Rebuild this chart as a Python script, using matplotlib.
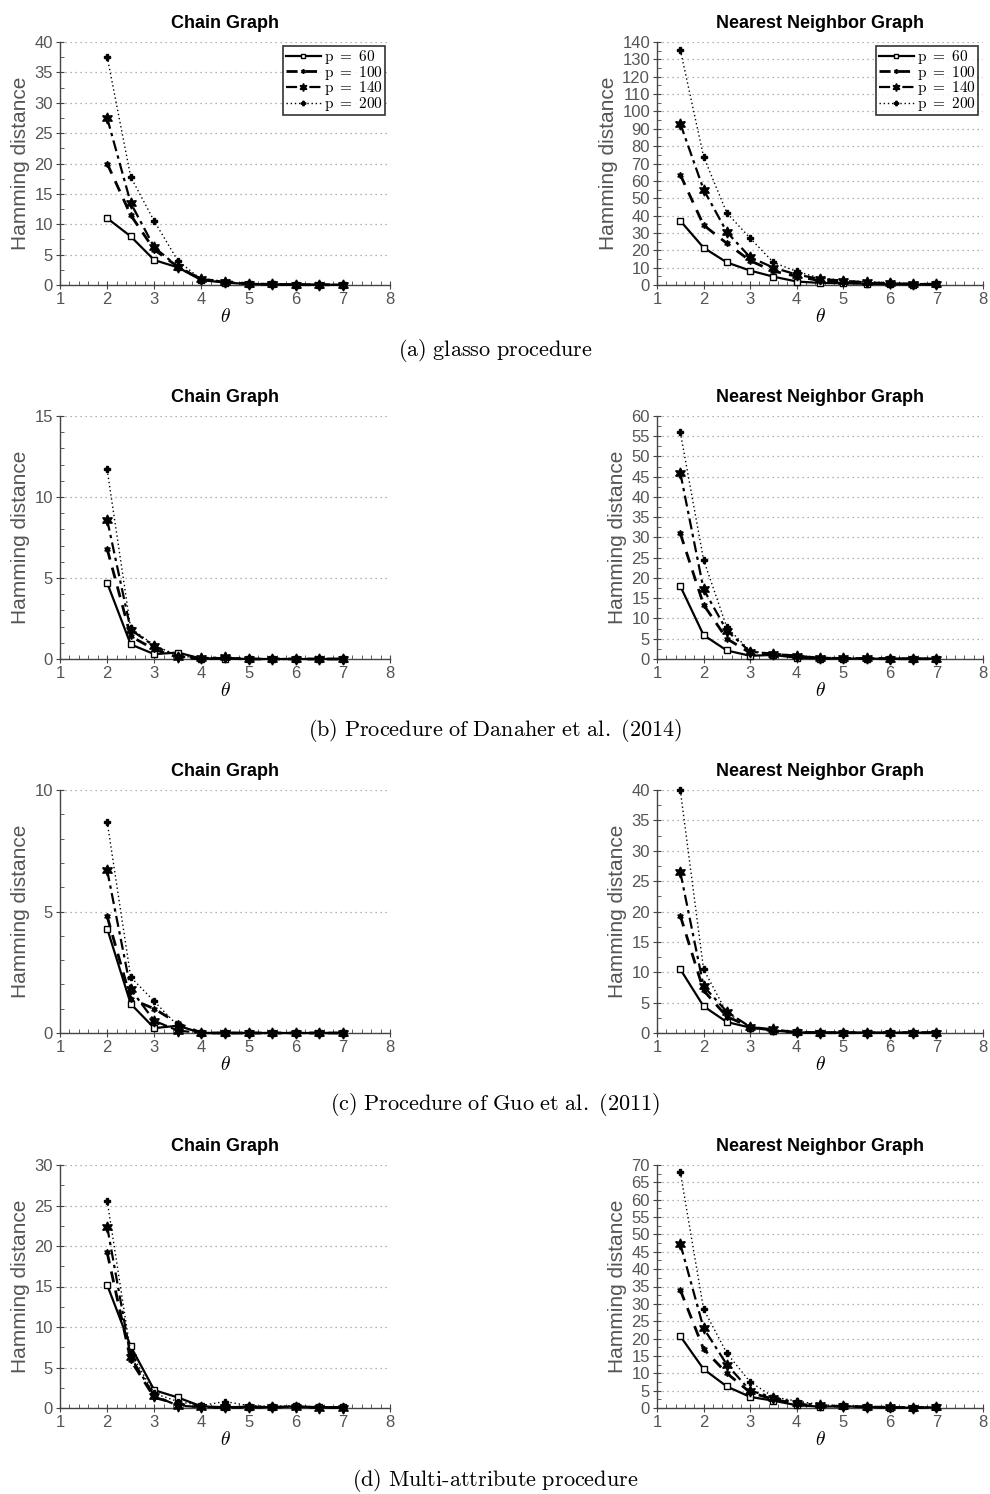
import matplotlib
matplotlib.use("Agg")
import matplotlib.pyplot as plt
from matplotlib.ticker import MultipleLocator

plt.rcParams['mathtext.fontset'] = 'cm'
plt.rcParams['font.family'] = ['Liberation Sans', 'DejaVu Sans']

# theta grids
theta_chain = [2, 2.5, 3, 3.5, 4, 4.5, 5, 5.5, 6, 6.5, 7]
theta_nn = [1.5, 2, 2.5, 3, 3.5, 4, 4.5, 5, 5.5, 6, 6.5, 7]
p_labels = ['60', '100', '140', '200']

# (a) glasso
a_chain_60 = [11.0, 8.0, 4.1, 2.9, 0.8, 0.4, 0.15, 0.1, 0.05, 0.05, 0.02]
a_chain_100 = [20.0, 11.5, 5.8, 3.0, 0.9, 0.6, 0.2, 0.1, 0.05, 0.05, 0.02]
a_chain_140 = [27.5, 13.5, 6.2, 3.0, 1.0, 0.5, 0.2, 0.1, 0.05, 0.05, 0.02]
a_chain_200 = [37.6, 17.8, 10.5, 4.0, 0.9, 0.4, 0.2, 0.1, 0.05, 0.05, 0.02]
a_nn_60 = [37.0, 21.5, 13.0, 8.3, 4.8, 2.0, 1.2, 1.0, 0.7, 0.4, 0.2, 0.3]
a_nn_100 = [63.5, 34.5, 24.0, 14.0, 8.0, 5.0, 2.5, 1.5, 1.0, 0.7, 0.5, 0.4]
a_nn_140 = [93.0, 55.0, 30.5, 16.0, 10.0, 6.0, 3.5, 2.5, 1.5, 1.0, 0.6, 0.5]
a_nn_200 = [135.5, 74.0, 41.5, 27.0, 13.0, 7.8, 4.0, 2.8, 1.8, 1.5, 0.8, 0.6]

# (b) Danaher et al.
b_chain_60 = [4.7, 0.9, 0.3, 0.4, 0.02, 0.02, 0.0, 0.0, 0.0, 0.0, 0.0]
b_chain_100 = [6.8, 1.4, 0.6, 0.1, 0.0, 0.05, 0.0, 0.0, 0.0, 0.0, 0.0]
b_chain_140 = [8.6, 1.8, 0.8, 0.15, 0.05, 0.1, 0.0, 0.0, 0.0, 0.0, 0.0]
b_chain_200 = [11.7, 1.9, 0.85, 0.2, 0.05, 0.1, 0.0, 0.0, 0.0, 0.0, 0.0]
b_nn_60 = [18.0, 5.9, 2.1, 0.8, 1.0, 0.3, 0.1, 0.1, 0.1, 0.05, 0.05, 0.05]
b_nn_100 = [31.0, 13.4, 5.0, 1.5, 1.2, 0.7, 0.2, 0.15, 0.1, 0.05, 0.05, 0.05]
b_nn_140 = [46.0, 17.2, 7.0, 1.8, 1.3, 0.8, 0.3, 0.2, 0.2, 0.1, 0.05, 0.05]
b_nn_200 = [56.0, 24.5, 7.8, 2.0, 1.2, 0.6, 0.2, 0.2, 0.1, 0.05, 0.05, 0.05]

# (c) Guo et al.
c_chain_60 = [4.3, 1.2, 0.2, 0.3, 0.0, 0.0, 0.0, 0.0, 0.0, 0.0, 0.0]
c_chain_100 = [4.8, 1.4, 1.0, 0.4, 0.0, 0.0, 0.0, 0.0, 0.0, 0.0, 0.0]
c_chain_140 = [6.7, 1.8, 0.5, 0.1, 0.0, 0.0, 0.0, 0.0, 0.0, 0.0, 0.0]
c_chain_200 = [8.7, 2.3, 1.3, 0.3, 0.0, 0.0, 0.0, 0.0, 0.0, 0.0, 0.0]
c_nn_60 = [10.5, 4.4, 1.8, 0.9, 0.4, 0.1, 0.05, 0.05, 0.05, 0.05, 0.05, 0.05]
c_nn_100 = [19.3, 7.0, 2.7, 1.0, 0.3, 0.1, 0.05, 0.05, 0.05, 0.05, 0.05, 0.05]
c_nn_140 = [26.5, 7.7, 3.5, 1.0, 0.6, 0.1, 0.05, 0.05, 0.05, 0.05, 0.05, 0.05]
c_nn_200 = [40.0, 10.5, 3.3, 1.0, 0.4, 0.1, 0.05, 0.05, 0.05, 0.05, 0.05, 0.05]

# (d) Multi-attribute
d_chain_60 = [15.2, 7.6, 2.2, 1.3, 0.2, 0.1, 0.15, 0.1, 0.2, 0.1, 0.1]
d_chain_100 = [19.2, 5.9, 1.3, 0.5, 0.1, 0.05, 0.1, 0.1, 0.1, 0.05, 0.05]
d_chain_140 = [22.4, 6.3, 1.5, 0.3, 0.1, 0.1, 0.1, 0.1, 0.15, 0.05, 0.05]
d_chain_200 = [25.6, 6.8, 1.8, 0.8, 0.3, 0.8, 0.3, 0.2, 0.3, 0.1, 0.1]
d_nn_60 = [20.7, 11.2, 6.2, 3.2, 2.1, 0.8, 0.4, 0.5, 0.3, 0.1, 0.1, 0.2]
d_nn_100 = [34.0, 17.0, 10.0, 4.5, 2.5, 1.2, 0.5, 0.5, 0.3, 0.2, 0.1, 0.2]
d_nn_140 = [47.3, 23.0, 12.5, 5.0, 3.0, 1.5, 0.8, 0.5, 0.3, 0.2, 0.1, 0.2]
d_nn_200 = [68.0, 28.5, 15.8, 7.5, 3.2, 2.0, 1.0, 0.6, 0.4, 0.2, 0.1, 0.2]

captions = [r'$\mathrm{(a)\ glasso\ procedure}$',
            r'$\mathrm{(b)\ Procedure\ of\ Danaher\ et\ al.\ (2014)}$',
            r'$\mathrm{(c)\ Procedure\ of\ Guo\ et\ al.\ (2011)}$',
            r'$\mathrm{(d)\ Multi\text{-}attribute\ procedure}$']

rows = [
    ([a_chain_60, a_chain_100, a_chain_140, a_chain_200], [a_nn_60, a_nn_100, a_nn_140, a_nn_200], (40, 5, 2.5), (140, 10, 5)),
    ([b_chain_60, b_chain_100, b_chain_140, b_chain_200], [b_nn_60, b_nn_100, b_nn_140, b_nn_200], (15, 5, 1), (60, 5, 2.5)),
    ([c_chain_60, c_chain_100, c_chain_140, c_chain_200], [c_nn_60, c_nn_100, c_nn_140, c_nn_200], (10, 5, 1), (40, 5, 2.5)),
    ([d_chain_60, d_chain_100, d_chain_140, d_chain_200], [d_nn_60, d_nn_100, d_nn_140, d_nn_200], (30, 5, 2.5), (70, 5, 2.5)),
]

styles = [
    dict(ls='-', lw=1.6, marker='s', ms=5, mfc='white', mec='black', mew=1.0),
    dict(ls=(0, (4, 3)), lw=2.0, marker=(6, 1, 0), ms=4.5),
    dict(ls=(0, (5, 2, 1.5, 2)), lw=1.6, marker=(6, 1, 0), ms=8),
    dict(ls=(0, (1, 2)), lw=1.0, marker='P', ms=4.5),
]

W, H = 990, 1494
fig = plt.figure(figsize=(W / 100, H / 100), dpi=100)

row_tops = [42, 416, 790, 1165]
ax_h = 243
cols = [(60, 330), (657, 326)]
tick_gray = '#555555'


def draw(ax, series, xs, ylim, title, legend):
    ymax, major, minor = ylim
    for i, ys in enumerate(series):
        st = dict(styles[i])
        ax.plot(xs, ys, color='black', clip_on=False, zorder=3,
                label=r'$\mathrm{p}\ =\ ' + p_labels[i] + '$', **st)
    ax.set_xlim(1, 8)
    ax.set_ylim(0, ymax)
    ax.xaxis.set_major_locator(MultipleLocator(1))
    ax.xaxis.set_minor_locator(MultipleLocator(0.2))
    ax.yaxis.set_major_locator(MultipleLocator(major))
    ax.yaxis.set_minor_locator(MultipleLocator(minor))
    for s in ['top', 'right']:
        ax.spines[s].set_visible(False)
    for s in ['left', 'bottom']:
        ax.spines[s].set_color('#444444')
        ax.spines[s].set_linewidth(1.0)
    ax.tick_params(which='major', direction='inout', length=6, color='#444444',
                   labelsize=12, labelcolor=tick_gray, pad=2)
    ax.tick_params(which='minor', direction='in', length=3, color='#444444')
    ax.grid(axis='y', which='major', ls=(0, (1, 3)), color='#999999', lw=0.9)
    ax.set_axisbelow(True)
    ax.set_title(title, fontsize=13, fontweight='bold', pad=10)
    ax.set_ylabel('Hamming distance', fontsize=15, color=tick_gray, labelpad=3)
    ax.set_xlabel(r'$\theta$', fontsize=14, labelpad=1)
    if legend:
        lg = ax.legend(loc='upper right', bbox_to_anchor=(0.985, 0.985), fontsize=11,
                       frameon=True, fancybox=False, edgecolor='black',
                       handlelength=2.3, handletextpad=0.2, labelspacing=-0.15,
                       borderpad=0.15, borderaxespad=0.0, markerscale=0.7)
        lg.get_frame().set_linewidth(1.2)


for r, (chain, nn, ylc, yln) in enumerate(rows):
    top = row_tops[r]
    for c, (x0, w) in enumerate(cols):
        ax = fig.add_axes([x0 / W, 1 - (top + ax_h) / H, w / W, ax_h / H])
        if c == 0:
            draw(ax, chain, theta_chain, ylc, 'Chain Graph', r == 0)
        else:
            draw(ax, nn, theta_nn, yln, 'Nearest Neighbor Graph', r == 0)
    cap_y = [350, 730, 1105, 1480][r]
    fig.text(0.5, 1 - cap_y / H, captions[r], ha='center', va='center', fontsize=16)

fig.savefig('out.png', dpi=100)
